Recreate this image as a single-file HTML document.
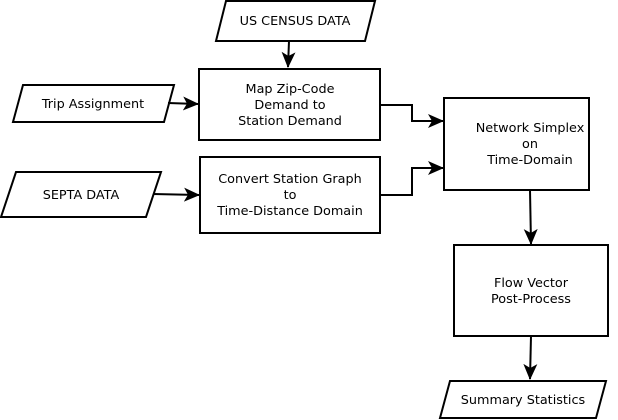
<!DOCTYPE html>
<html><head><meta charset="utf-8"><style>
html,body{margin:0;padding:0;background:#fff;}
svg{display:block;}
text{font-family:"DejaVu Sans","Liberation Sans",sans-serif;font-size:12.8px;fill:#000;text-anchor:middle;}
</style></head><body>
<svg width="618" height="420" viewBox="0 0 618 420" xmlns="http://www.w3.org/2000/svg">
<defs>
<marker id="a" markerWidth="16" markerHeight="14" refX="15" refY="7" orient="auto" markerUnits="userSpaceOnUse">
<path d="M0,0 L16,7 L0,14 L4,7 Z" fill="#000"/>
</marker>
</defs>
<g fill="#fff" stroke="#000" stroke-width="2">
<polygon points="226,1 375,1 365,41 216,41"/>
<polygon points="23,85 174,85 164,122 13,122"/>
<polygon points="16,172 161,172 146,217 1,217"/>
<polygon points="450,381 606,381 596,418 440,418"/>
<rect x="199" y="69" width="181" height="71"/>
<rect x="200" y="157" width="180" height="76"/>
<rect x="444" y="98" width="145" height="92"/>
<rect x="454" y="245" width="154" height="91"/>
</g>
<g fill="none" stroke="#000" stroke-width="2">
<path d="M289,41 L288,67" marker-end="url(#a)"/>
<path d="M168,103 L198,104" marker-end="url(#a)"/>
<path d="M153,194 L199,195" marker-end="url(#a)"/>
<path d="M380,105 L412,105 L412,121 L443,121" marker-end="url(#a)"/>
<path d="M380,195 L412,195 L412,168 L443,168" marker-end="url(#a)"/>
<path d="M530,190 L531,244" marker-end="url(#a)"/>
<path d="M531,336 L530,379" marker-end="url(#a)"/>
</g>
<text x="295" y="25">US CENSUS DATA</text>
<text x="93" y="108">Trip Assignment</text>
<text x="81" y="199">SEPTA DATA</text>
<text x="523" y="404">Summary Statistics</text>
<text x="290" y="93">Map Zip-Code</text>
<text x="290" y="109">Demand to</text>
<text x="290" y="125">Station Demand</text>
<text x="290" y="183">Convert Station Graph</text>
<text x="290" y="199">to</text>
<text x="290" y="215">Time-Distance Domain</text>
<text x="530" y="132">Network Simplex</text>
<text x="530" y="148">on</text>
<text x="530" y="164">Time-Domain</text>
<text x="531" y="287">Flow Vector</text>
<text x="531" y="303">Post-Process</text>
</svg>
</body></html>
